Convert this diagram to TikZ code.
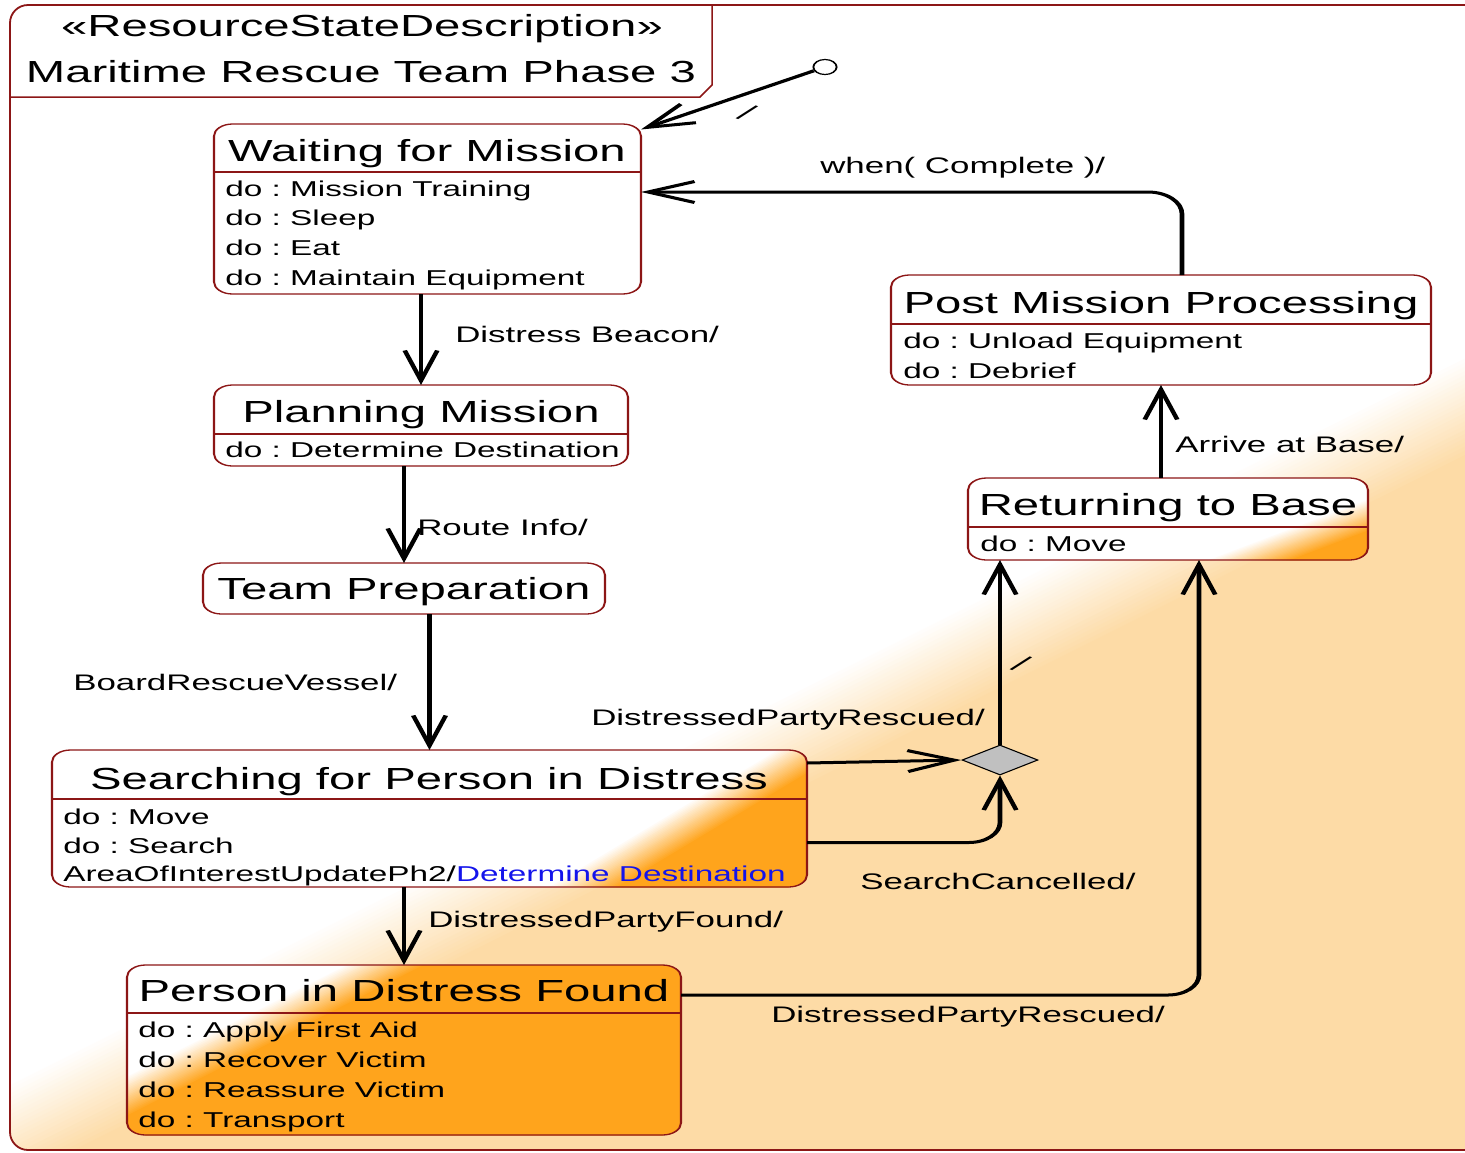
\documentclass[tikz,border=0pt]{standalone}
\usepackage{fontspec}
\setmainfont{Liberation Sans}
\usetikzlibrary{arrows.meta,calc,fit,shapes.geometric}
\frenchspacing

\definecolor{framered}{RGB}{140,22,22}
\definecolor{stateorange}{RGB}{255,164,28}
\definecolor{peach}{RGB}{253,219,166}
\definecolor{actblue}{RGB}{20,20,235}
\definecolor{choicegray}{RGB}{192,192,192}

% Soft colour edge: strips parallel to a line through (#1,#2) with unit
% direction (#3,#4), blending from #6 to #7 across a band of width #5.
\newcommand\fadestrips[7]{%
  \foreach \k in {1,...,24}{%
    \pgfmathsetmacro\off{-(#5)/2+(\k-1)*(#5)/24}%
    \pgfmathtruncatemacro\pc{\k*100/24}%
    \fill[#7!\pc!#6]
      ({#1+(\off)*(-(#4))-2000*(#3)},{#2+(\off)*(#3)-2000*(#4)}) --
      ({#1+(\off)*(-(#4))+2000*(#3)},{#2+(\off)*(#3)+2000*(#4)}) --
      ({#1+(\off+2000)*(-(#4))+2000*(#3)},{#2+(\off+2000)*(#3)+2000*(#4)}) --
      ({#1+(\off+2000)*(-(#4))-2000*(#3)},{#2+(\off+2000)*(#3)-2000*(#4)}) -- cycle;
  }%
}

\tikzset{
  state/.style={draw=framered, line width=1.3pt, rounded corners=12pt,
    inner sep=0pt, outer sep=0pt},
  divider/.style={draw=framered, line width=1.3pt},
  sttitle/.style={font=\fontsize{30.5}{36}\selectfont, inner sep=0pt, anchor=base},
  stbody/.style={font=\fontsize{21.5}{26}\selectfont, inner sep=0pt, anchor=base west},
  hdr/.style={font=\fontsize{30.5}{36}\selectfont, inner sep=0pt, anchor=base},
  lbl/.style={font=\fontsize{22.5}{27}\selectfont, inner sep=0pt, anchor=west},
  slashlbl/.style={font=\fontsize{24}{28}\selectfont, inner sep=0pt, anchor=center, rotate=-30},
  trans/.style={draw=black, line width=3pt, -{Straight Barb[length=30pt,width=21pt]}},
  initstate/.style={circle, draw=black, line width=1.2pt, fill=white,
    minimum size=15pt, inner sep=0pt},
  choicenode/.style={diamond, draw=black, line width=1pt, fill=choicegray,
    minimum width=49pt, minimum height=30pt, inner sep=0pt}
}

\begin{document}
\begin{tikzpicture}[x=1pt,y=-1pt]
\useasboundingbox (0,0) rectangle (1465,1152);
\clip (0,0) rectangle (1465,1152);
\fill[white] (0,0) rectangle (1465,1152);

% diagram frame with its shaded background
\begin{scope}
  \clip[rounded corners=18pt] (10,5) rectangle (1482,1150);
  \fadestrips{738}{772}{0.895}{-0.447}{90}{white}{peach}
\end{scope}
\draw[framered, line width=1.8pt, rounded corners=18pt] (10,5) rectangle (1482,1150);
\draw[framered, line width=1.5pt] (10,97) -- (700,97) -- (712,85) -- (712,5);

% everything below is drawn on a horizontally widened canvas
\begin{scope}[x=0.64516pt, y=-1pt, transform canvas={xscale=1.55}]

  \node[hdr] (stereo) at (362,36) {«ResourceStateDescription»};
  \node[hdr] (dname) at (361,82) {Maritime Rescue Team Phase 3};

  % ---- state fills ----
  \fill[white, rounded corners=12pt] (214,124) rectangle (641,294);
  \fill[white, rounded corners=12pt] (214,385) rectangle (628,466);
  \fill[white, rounded corners=12pt] (203,563) rectangle (605,614);
  \fill[white, rounded corners=12pt] (891,275) rectangle (1431,385);
  \begin{scope}
    \clip[rounded corners=12pt] (968,478) rectangle (1368,560);
    \fill[white] (968,478) rectangle (1368,560);
    \fadestrips{1312}{537}{0.935}{-0.355}{30}{white}{stateorange}
  \end{scope}
  \begin{scope}
    \clip[rounded corners=12pt] (52,750) rectangle (807,887);
    \fill[white] (52,750) rectangle (807,887);
    \fadestrips{688}{825}{0.857}{-0.514}{36}{white}{stateorange}
  \end{scope}
  \begin{scope}
    \clip[rounded corners=12pt] (127,965) rectangle (681,1135);
    \fill[white] (127,965) rectangle (681,1135);
    \fadestrips{257}{1031}{0.892}{-0.453}{36}{white}{stateorange}
  \end{scope}

  % ---- states ----
  \node[state, fit={(214,124) (641,294)}] (wait) {};
  \draw[divider] (214,172) -- (641,172);
  \node[sttitle] (waitT) at (427,161) {Waiting for Mission};
  \node[stbody] (waitA) at (225,196) {do : Mission Training};
  \node[stbody] (waitB) at (225,225) {do : Sleep};
  \node[stbody] (waitC) at (225,255) {do : Eat};
  \node[stbody] (waitD) at (225,285) {do : Maintain Equipment};

  \node[state, fit={(214,385) (628,466)}] (plan) {};
  \draw[divider] (214,434) -- (628,434);
  \node[sttitle] (planT) at (421,422) {Planning Mission};
  \node[stbody] (planA) at (225,457) {do : Determine Destination};

  \node[state, fit={(203,563) (605,614)}] (prep) {};
  \node[sttitle] (prepT) at (404,599) {Team Preparation};

  \node[state, fit={(52,750) (807,887)}] (search) {};
  \draw[divider] (52,799) -- (807,799);
  \node[sttitle] (searchT) at (429,789) {Searching for Person in Distress};
  \node[stbody] (searchA) at (63,824) {do : Move};
  \node[stbody] (searchB) at (63,853) {do : Search};
  \node[stbody] (searchC) at (63,881) {AreaOfInterestUpdatePh2/\textcolor{actblue}{Determine Destination}};

  \node[state, fit={(127,965) (681,1135)}] (found) {};
  \draw[divider] (127,1013) -- (681,1013);
  \node[sttitle] (foundT) at (404,1001) {Person in Distress Found};
  \node[stbody] (foundA) at (138,1037) {do : Apply First Aid};
  \node[stbody] (foundB) at (138,1067) {do : Recover Victim};
  \node[stbody] (foundC) at (138,1097) {do : Reassure Victim};
  \node[stbody] (foundD) at (138,1127) {do : Transport};

  \node[state, fit={(891,275) (1431,385)}] (post) {};
  \draw[divider] (891,324) -- (1431,324);
  \node[sttitle] (postT) at (1161,313) {Post Mission Processing};
  \node[stbody] (postA) at (903,348) {do : Unload Equipment};
  \node[stbody] (postB) at (903,378) {do : Debrief};

  \node[state, fit={(968,478) (1368,560)}] (ret) {};
  \draw[divider] (968,527) -- (1368,527);
  \node[sttitle] (retT) at (1168,515) {Returning to Base};
  \node[stbody] (retA) at (980,551) {do : Move};

  \node[initstate] (init) at (825,67) {};
  \node[choicenode] (choice) at (1000,760) {};

  % ---- transitions ----
  \draw[trans] (init) -- (wait.30);
  \draw[trans, rounded corners=22pt] ($(post.north)+(21,0)$) |- ($(wait.east)+(0,-17)$);
  \draw[trans] (wait.south -| plan.north) -- (plan.north);
  \draw[trans] (plan.south -| prep.north) -- (prep.north);
  \draw[trans] (prep.south -| search.north) -- (search.north);
  \draw[trans] ($(search.north east)+(0,13)$) -- (choice.west);
  \draw[trans, rounded corners=20pt] ($(search.east)+(0,24)$) -| (choice.south);
  \draw[trans] (choice.north) -- (choice.north |- ret.south);
  \draw[trans] (search.south -| found.north) -- (found.north);
  \draw[trans, rounded corners=20pt] ($(found.north east)+(0,30)$) -| ($(ret.south)+(31,0)$);
  \draw[trans] (ret.north -| post.south) -- (post.south);

  % ---- transition labels ----
  \node[slashlbl] (lInit) at (747,113) {/};
  \node[lbl] (lComplete) at (820,168) {when( Complete )/};
  \node[lbl] (lBeacon) at (455,334) {Distress Beacon/};
  \node[lbl] (lRoute) at (417,527) {Route Info/};
  \node[lbl] (lBoard) at (73,682) {BoardRescueVessel/};
  \node[lbl] (lRescuedA) at (591,720) {DistressedPartyRescued/};
  \node[slashlbl] (lChoice) at (1021,664) {/};
  \node[lbl] (lCancel) at (860,881) {SearchCancelled/};
  \node[lbl] (lFound) at (428,922) {DistressedPartyFound/};
  \node[lbl] (lRescuedB) at (771,1017) {DistressedPartyRescued/};
  \node[lbl] (lArrive) at (1175,444) {Arrive at Base/};
\end{scope}
\end{tikzpicture}
\end{document}
